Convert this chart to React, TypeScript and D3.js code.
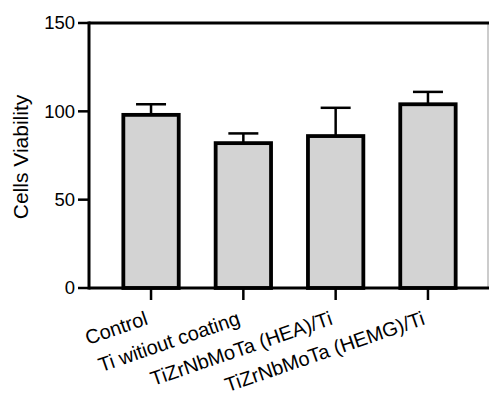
import React from 'react'
import * as d3 from 'd3'

const categories = ['Control', 'Ti witiout coating', 'TiZrNbMoTa (HEA)/Ti', 'TiZrNbMoTa (HEMG)/Ti']
const means = [98, 82, 86, 104]
const errors = [6, 5.5, 16, 7]
const yTicks = [0, 50, 100, 150]

const W = 489
const H = 396
const left = 89
const top = 23
const bottom = 288
const right = 488

const App = () => {
  const x = d3.scalePoint<string>().domain(categories).range([left, 490]).padding(0.672)
  const y = d3.scaleLinear().domain([0, 150]).range([bottom, top])
  const barW = x.step() * 0.6
  const capW = 30
  const font = 'Arial, "Liberation Sans", sans-serif'

  return (
    <svg width={W} height={H} style={{ position: 'absolute', left: 0, top: 0, background: '#fff' }}>
      {/* frame */}
      <line x1={right} x2={right} y1={top} y2={bottom} stroke="#999" strokeWidth={1} />
      <line x1={left} x2={W} y1={y(150)} y2={y(150)} stroke="#000" strokeWidth={3} />

      {categories.map((c, i) => {
        const cx = x(c)!
        return (
          <g key={c}>
            <line x1={cx} x2={cx} y1={y(means[i])} y2={y(means[i] + errors[i])} stroke="#000" strokeWidth={2.5} />
            <line x1={cx - capW / 2} x2={cx + capW / 2} y1={y(means[i] + errors[i])} y2={y(means[i] + errors[i])} stroke="#000" strokeWidth={2.5} />
            <rect
              x={cx - barW / 2}
              y={y(means[i])}
              width={barW}
              height={y(0) - y(means[i])}
              fill="#d3d3d3"
              stroke="#000"
              strokeWidth={3.8}
            />
          </g>
        )
      })}

      {/* y axis */}
      <line x1={left} x2={left} y1={top - 1.5} y2={bottom + 1.5} stroke="#000" strokeWidth={3} />
      {yTicks.map(t => (
        <g key={t}>
          <line x1={left - 11} x2={left} y1={y(t)} y2={y(t)} stroke="#000" strokeWidth={2.5} />
          <text x={left - 14} y={y(t)} dy="0.35em" textAnchor="end" fontFamily={font} fontSize={18.5} fill="#000">
            {t}
          </text>
        </g>
      ))}
      <text
        transform={`translate(28, 157) rotate(-90)`}
        textAnchor="middle"
        fontFamily={font}
        fontSize={21}
        fill="#000"
      >
        Cells Viability
      </text>

      {/* x axis */}
      <line x1={left} x2={W} y1={bottom} y2={bottom} stroke="#000" strokeWidth={3} />
      {categories.map(c => (
        <g key={c}>
          <line x1={x(c)!} x2={x(c)!} y1={bottom} y2={bottom + 12} stroke="#000" strokeWidth={2.5} />
          <text
            transform={`translate(${x(c)! - 2}, 324) rotate(-19)`}
            textAnchor="end"
            fontFamily={font}
            fontSize={20}
            fill="#000"
          >
            {c}
          </text>
        </g>
      ))}
    </svg>
  )
}

export default App
